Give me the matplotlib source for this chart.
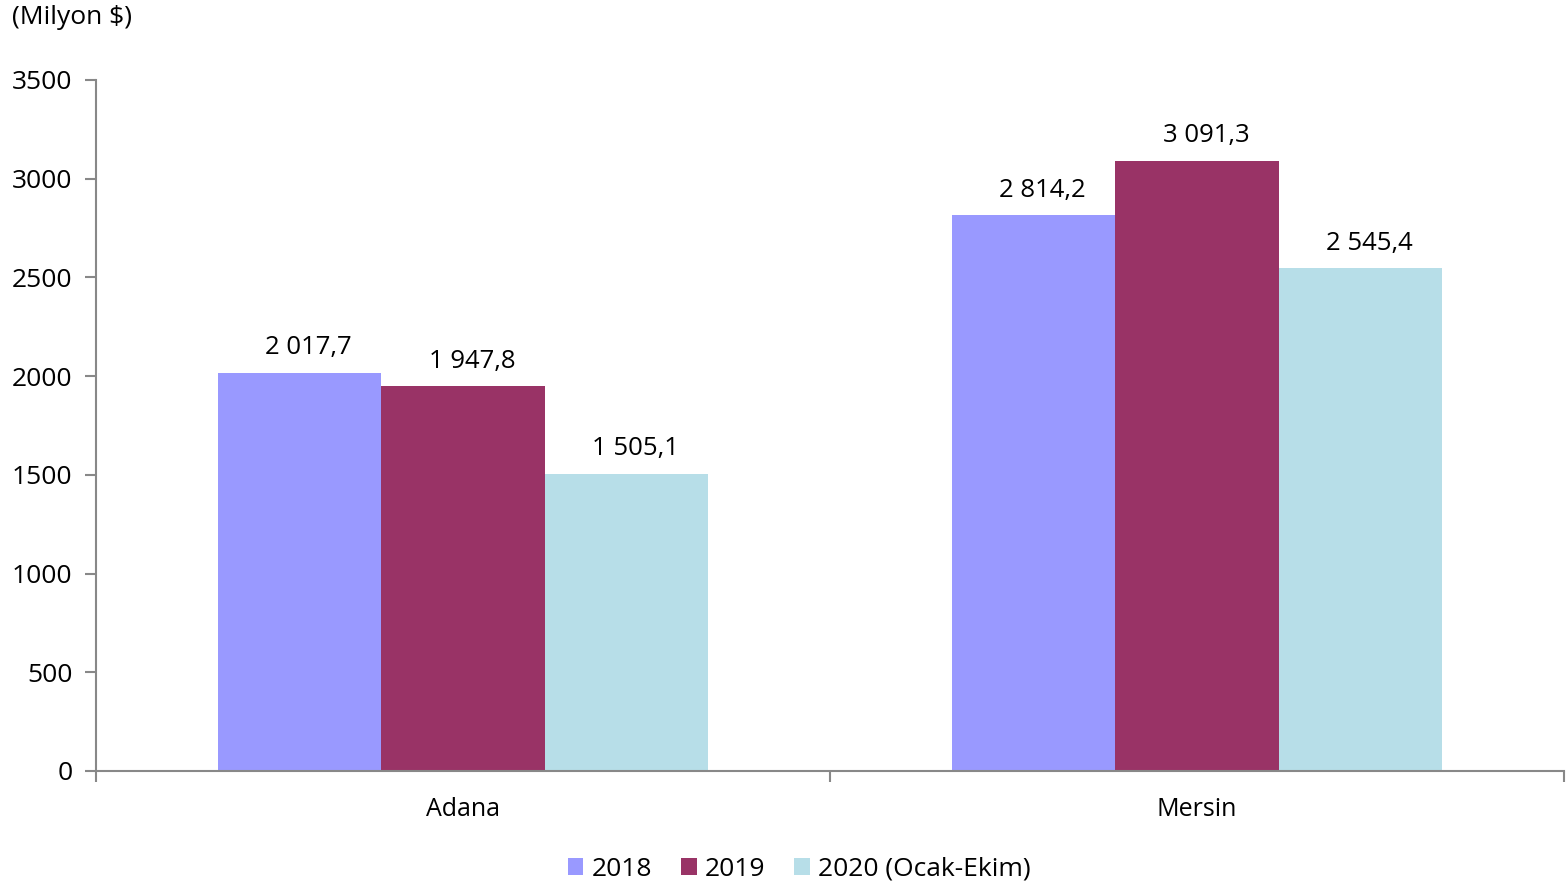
import numpy as np
import matplotlib.pyplot as plt
from matplotlib.ticker import MultipleLocator, FixedLocator

plt.rcParams['font.family'] = ['Open Sans', 'DejaVu Sans']

# İhracat değerleri (Milyon $)
cities = ["Adana", "Mersin"]
series_names = ["2018", "2019", "2020 (Ocak-Ekim)"]
values_2018 = [2017.7, 2814.2]
values_2019 = [1947.8, 3091.3]
values_2020 = [1505.1, 2545.4]
colors = ["#9999FF", "#993366", "#B7DEE8"]


def fmt_tr(v):
    # 2017.7 -> "2 017,7"
    whole, dec = f"{v:.1f}".split(".")
    whole = f"{int(whole):,}".replace(",", " ")
    return f"{whole},{dec}"


fig = plt.figure(figsize=(15.66, 8.86), dpi=100)
ax = fig.add_axes([96 / 1566, 1 - 771 / 886, 1468 / 1566, 691 / 886])

x = np.arange(len(cities))
width = 0.2225
all_values = [values_2018, values_2019, values_2020]
for i, (vals, name, col) in enumerate(zip(all_values, series_names, colors)):
    pos = x + (i - 1) * width
    ax.bar(pos, vals, width=width, color=col, label=name, zorder=2)
    for p, v in zip(pos, vals):
        ax.annotate(fmt_tr(v), (p, v), xytext=(6.5, 9), textcoords='offset points',
                    ha='center', va='bottom', fontsize=18.5)

ax.set_xlim(-0.5, 1.5)
ax.set_ylim(0, 3500)
ax.yaxis.set_major_locator(MultipleLocator(500))
ax.xaxis.set_major_locator(FixedLocator([-0.5, 0.5, 1.5]))
ax.xaxis.set_ticklabels([])
ax.xaxis.set_minor_locator(FixedLocator(x))
ax.xaxis.set_minor_formatter(plt.FixedFormatter(cities))
ax.tick_params(axis='x', which='major', length=8, width=1.5, color='#888888')
ax.tick_params(axis='x', which='minor', length=0, pad=19, labelsize=18)
ax.tick_params(axis='y', length=8, width=1.5, color='#888888', labelsize=19, pad=9)

for side in ['top', 'right']:
    ax.spines[side].set_visible(False)
for side in ['left', 'bottom']:
    ax.spines[side].set_color('#888888')
    ax.spines[side].set_linewidth(1.5)

fig.text(12 / 1566, 1 - 17 / 886, "(Milyon $)", fontsize=19, va='center', ha='left')

ax.legend(loc='center', bbox_to_anchor=((799 - 96) / 1468, 1 - (869 - 80) / 691), ncol=3,
          frameon=False, fontsize=19, handlelength=0.6, handleheight=0.6,
          handletextpad=0.3, columnspacing=1.1)

fig.savefig("out.png", dpi=100)
